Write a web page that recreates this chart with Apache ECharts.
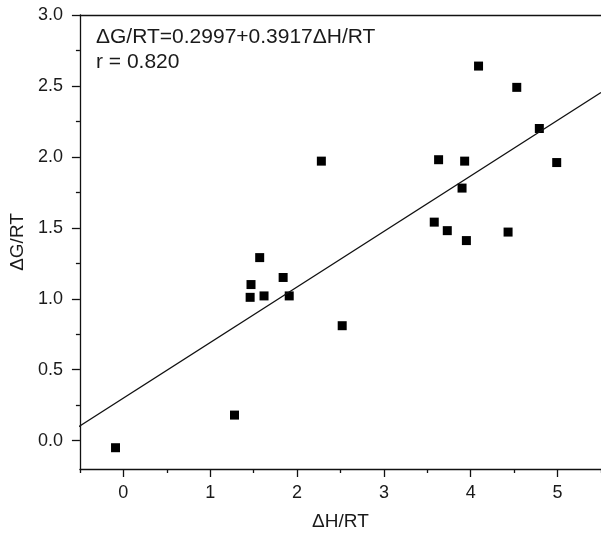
<!DOCTYPE html>
<html>
<head>
<meta charset="utf-8">
<script src="https://cdn.jsdelivr.net/npm/echarts@6/dist/echarts.min.js"></script>
<style>html,body{margin:0;padding:0;background:#fff}#c{width:601px;height:537px}</style>
</head>
<body>
<div id="c"></div>
<script>
var xValues = [-0.09, 1.28, 1.46, 1.47, 1.57, 1.62, 1.84, 1.91, 2.28, 2.52, 3.58, 3.63, 3.73, 3.90, 3.93, 3.95, 4.09, 4.43, 4.53, 4.79, 4.99];
var yValues = [-0.05, 0.18, 1.01, 1.10, 1.29, 1.02, 1.15, 1.02, 1.97, 0.81, 1.54, 1.98, 1.48, 1.78, 1.97, 1.41, 2.64, 1.47, 2.49, 2.20, 1.96];
var fitLine = [[-0.62, 0.057], [5.5, 2.454]];
var xMajorTicks = [0, 1, 2, 3, 4, 5];
var xMinorTicks = [-0.5, 0.5, 1.5, 2.5, 3.5, 4.5, 5.5];
var yMajorTicks = [0, 0.5, 1.0, 1.5, 2.0, 2.5, 3.0];
var yMinorTicks = [0.25, 0.75, 1.25, 1.75, 2.25, 2.75];
var equationText = 'ΔG/RT=0.2997+0.3917ΔH/RT';
var rText = 'r = 0.820';
var xName = 'ΔH/RT';
var yName = 'ΔG/RT';

var points = xValues.map(function (x, i) { return [x, yValues[i]]; });
var FONT = '"Liberation Sans", Arial, Helvetica, sans-serif';
var AX = '#111';
var lineStyle = { color: AX, width: 1.3 };

var chart = echarts.init(document.getElementById('c'));
chart.setOption({
  animation: false,
  grid: { left: 79, top: 15, bottom: 68, right: -6, containLabel: false },
  textStyle: { fontFamily: FONT },
  xAxis: [
    {
      type: 'value', position: 'bottom', min: -0.5, max: 5.5,
      name: xName, nameLocation: 'middle', nameGap: 43,
      nameTextStyle: { fontSize: 19, color: '#1a1a1a', fontFamily: FONT },
      axisLine: { show: true, onZero: false, lineStyle: lineStyle },
      axisTick: { show: true, inside: false, length: 8, customValues: xMajorTicks, lineStyle: lineStyle },
      axisLabel: { show: true, customValues: xMajorTicks, margin: 15, fontSize: 18, color: '#1a1a1a', fontFamily: FONT,
        formatter: function (v) { return String(v); } },
      splitLine: { show: false }
    },
    {
      type: 'value', position: 'top', min: -0.5, max: 5.5,
      axisLine: { show: true, onZero: false, lineStyle: lineStyle },
      axisTick: { show: false }, axisLabel: { show: false }, splitLine: { show: false }
    },
    {
      type: 'value', position: 'bottom', min: -0.5, max: 5.5,
      axisLine: { show: false, onZero: false },
      axisTick: { show: true, inside: false, length: 4, customValues: xMinorTicks, lineStyle: lineStyle },
      axisLabel: { show: false }, splitLine: { show: false }
    }
  ],
  yAxis: [
    {
      type: 'value', position: 'left', min: -0.2, max: 3.0,
      name: yName, nameLocation: 'middle', nameGap: 50, nameRotate: 90,
      nameTextStyle: { fontSize: 19, color: '#1a1a1a', fontFamily: FONT },
      axisLine: { show: true, onZero: false, lineStyle: lineStyle },
      axisTick: { show: true, inside: false, length: 8, customValues: yMajorTicks, lineStyle: lineStyle },
      axisLabel: { show: true, customValues: yMajorTicks, margin: 17, fontSize: 18, color: '#1a1a1a', fontFamily: FONT,
        formatter: function (v) { return v.toFixed(1); } },
      splitLine: { show: false }
    },
    {
      type: 'value', position: 'left', min: -0.2, max: 3.0,
      axisLine: { show: false, onZero: false },
      axisTick: { show: true, inside: false, length: 4, customValues: yMinorTicks, lineStyle: lineStyle },
      axisLabel: { show: false }, splitLine: { show: false }
    }
  ],
  graphic: [
    { type: 'text', left: 96, top: 27, style: { text: equationText, font: '21px ' + FONT, fill: '#1a1a1a' } },
    { type: 'text', left: 96, top: 52, style: { text: rText, font: '21px ' + FONT, fill: '#1a1a1a' } }
  ],
  series: [
    {
      type: 'line', data: fitLine, xAxisIndex: 0, yAxisIndex: 0,
      showSymbol: false, symbol: 'none', clip: false,
      lineStyle: { color: AX, width: 1.3 }, silent: true
    },
    {
      type: 'scatter', data: points, xAxisIndex: 0, yAxisIndex: 0,
      symbol: 'rect', symbolSize: 9, clip: false,
      itemStyle: { color: '#000', opacity: 1 }
    }
  ]
});
</script>
</body>
</html>
